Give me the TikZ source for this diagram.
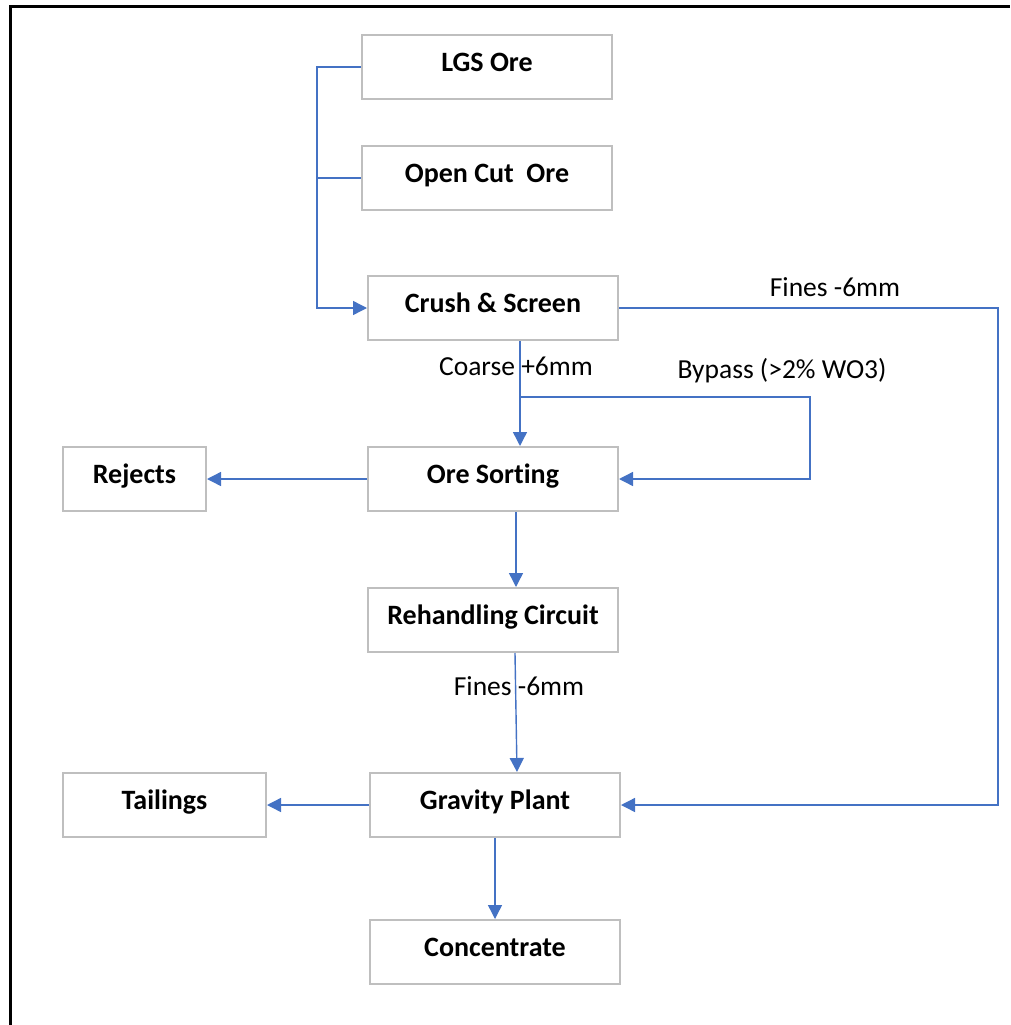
\documentclass[tikz,border=0pt]{standalone}
\usepackage{fontspec}
\setmainfont{Carlito}[Ligatures=NoCommon]
\usetikzlibrary{arrows.meta}
\definecolor{flowblue}{RGB}{68,114,196}
\definecolor{boxgray}{RGB}{191,191,191}
\begin{document}
\begin{tikzpicture}[x=1pt,y=-1pt,
    stage/.style={draw=boxgray,line width=2pt,minimum width=250pt,minimum height=64pt,
      inner sep=0pt,text height=20pt,text depth=12pt,font=\fontsize{28}{32}\selectfont\bfseries},
    flow/.style={draw=flowblue,line width=1.4pt,-{Triangle[length=14pt,width=14pt]}},
    link/.style={draw=flowblue,line width=1.4pt},
    tag/.style={inner sep=0pt,font=\fontsize{27.5}{32}\selectfont}]
  \useasboundingbox (0,0) rectangle (1010,1025);
  \draw[line width=3pt] (10,1025) -- (10,7) -- (1010,7);
  % stages
  \node[stage] (lgs) at (487,67) {LGS Ore};
  \node[stage] (open) at (487,178) {Open Cut\ \ Ore};
  \node[stage] (crush) at (493,308) {Crush \& Screen};
  \node[stage] (sort) at (493,479) {Ore Sorting};
  \node[stage,minimum width=143pt] (rej) at (134.5,479) {Rejects};
  \node[stage] (reh) at (493,620) {Rehandling Circuit};
  \node[stage] (grav) at (495,805) {Gravity Plant};
  \node[stage,minimum width=203pt] (tail) at (164.5,805) {Tailings};
  \node[stage] (conc) at (495,952) {Concentrate};
  % labels
  \node[tag] (finesa) at (835,287) {Fines -6mm};
  \node[tag] (coarse) at (516,366) {Coarse +6mm};
  \node[tag] (bypass) at (782,371) {Bypass (>2\% WO3)};
  \node[tag] (finesb) at (519,686) {Fines -6mm};
  % corners
  \coordinate (feed) at (318,178);
  \coordinate (bp) at (520,397);
  \coordinate (bpc) at (810,397);
  \coordinate (fc) at (998,308);
  % connectors
  \draw[flow] (lgs.west) -- ++(-44,0) |- (crush.west);
  \draw[link] (open.west) -- (feed);
  \draw[flow] ([xshift=27pt]crush.south) -- ([xshift=27pt]sort.north);
  \draw[flow] (bp) -- (bpc) |- (sort.east);
  \draw[flow] (crush.east) -- (fc) |- (grav.east);
  \draw[flow] (sort.west) -- (rej.east);
  \draw[flow] ([xshift=23pt]sort.south) -- ([xshift=23pt]reh.north);
  \draw[flow] ([xshift=22pt]reh.south) -- ([xshift=22pt]grav.north);
  \draw[flow] (grav.west) -- (tail.east);
  \draw[flow] (grav.south) -- (conc.north);
\end{tikzpicture}
\end{document}
